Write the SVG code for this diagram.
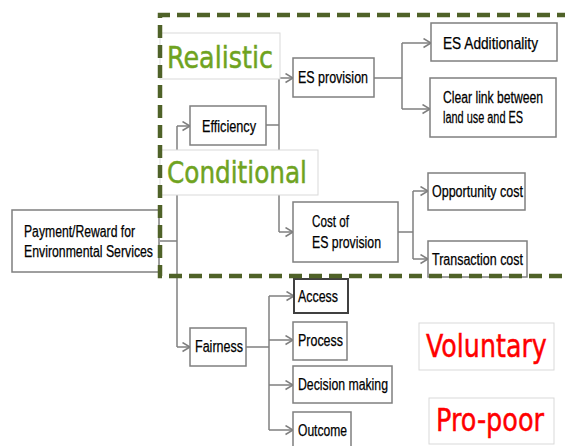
<svg xmlns="http://www.w3.org/2000/svg" width="565" height="446" viewBox="0 0 565 446">
  <style>
    .box { fill: #ffffff; stroke: #7f7f7f; stroke-width: 1.5; }
    .box.strong { stroke: #404040; stroke-width: 2; }
    .tag { fill: #ffffff; stroke: #d9d9d9; stroke-width: 1; }
    .lbl { font-family: "Liberation Sans", Arial, sans-serif; font-size: 16px; fill: #000000; stroke: #000000; stroke-width: 0.25; }
    .green { font-family: "DejaVu Sans", Tahoma, sans-serif; font-size: 30px; fill: #6fa31f; stroke: #6fa31f; stroke-width: 0.5; }
    .red { font-family: "DejaVu Sans", Tahoma, sans-serif; font-size: 32px; fill: #ff0000; stroke: #ff0000; stroke-width: 0.5; }
    .wire { fill: none; stroke: #7f7f7f; stroke-width: 1.5; }
    .frame { fill: none; stroke: #4f6228; stroke-width: 4.5; stroke-dasharray: 13 7; }
  </style>
  <defs>
    <marker id="chev" markerUnits="userSpaceOnUse" markerWidth="10" markerHeight="12" refX="8.5" refY="5" orient="auto">
      <path d="M1,0.5 L8.5,5 L1,9.5" fill="none" stroke="#7f7f7f" stroke-width="1.5"/>
    </marker>
  </defs>

  <!-- connectors -->
  <g id="connectors" class="wire">
    <path d="M160,241 H177"/>
    <path d="M177,126 V347"/>
    <path d="M177,126 H190" marker-end="url(#chev)"/>
    <path d="M177,347 H190" marker-end="url(#chev)"/>
    <path d="M266,125 H279"/>
    <path d="M279,78 V232"/>
    <path d="M279,78 H293" marker-end="url(#chev)"/>
    <path d="M279,232 H293" marker-end="url(#chev)"/>
    <path d="M374,78 H402"/>
    <path d="M402,43 V109"/>
    <path d="M402,43 H431" marker-end="url(#chev)"/>
    <path d="M402,109 H430" marker-end="url(#chev)"/>
    <path d="M398,232 H413"/>
    <path d="M413,191 V259"/>
    <path d="M413,191 H428" marker-end="url(#chev)"/>
    <path d="M413,259 H428" marker-end="url(#chev)"/>
    <path d="M246,347 H269"/>
    <path d="M269,296 V430"/>
    <path d="M269,296 H294" marker-end="url(#chev)"/>
    <path d="M269,340 H293" marker-end="url(#chev)"/>
    <path d="M269,385 H293" marker-end="url(#chev)"/>
    <path d="M269,430 H293" marker-end="url(#chev)"/>
  </g>

  <!-- category tags -->
  <g id="realistic">
    <rect class="tag" x="160" y="33" width="120" height="46"/>
    <text class="green" x="167" y="68" textLength="106" lengthAdjust="spacingAndGlyphs">Realistic</text>
  </g>
  <g id="conditional">
    <rect class="tag" x="160" y="150" width="158" height="45"/>
    <text class="green" x="167" y="183" textLength="140" lengthAdjust="spacingAndGlyphs">Conditional</text>
  </g>
  <g id="voluntary">
    <rect class="tag" x="419" y="323" width="135" height="47"/>
    <text class="red" transform="translate(426,357) scale(0.8,1)" textLength="151" lengthAdjust="spacingAndGlyphs">Voluntary</text>
  </g>
  <g id="propoor">
    <rect class="tag" x="429" y="398" width="125" height="46"/>
    <text class="red" font-size="31" transform="translate(436,431) scale(0.82,1)" textLength="131.7" lengthAdjust="spacingAndGlyphs">Pro-poor</text>
  </g>

  <!-- nodes -->
  <g id="payment">
    <rect class="box" x="12" y="210" width="147" height="62"/>
    <text class="lbl" x="24" y="237" textLength="111" lengthAdjust="spacingAndGlyphs">Payment/Reward for</text>
    <text class="lbl" x="24" y="257" textLength="129" lengthAdjust="spacingAndGlyphs">Environmental Services</text>
  </g>
  <g id="efficiency">
    <rect class="box" x="190" y="106" width="76" height="39"/>
    <text class="lbl" x="202" y="132" textLength="54" lengthAdjust="spacingAndGlyphs">Efficiency</text>
  </g>
  <g id="es-provision">
    <rect class="box" x="293" y="58" width="81" height="39"/>
    <text class="lbl" x="298" y="83" textLength="70" lengthAdjust="spacingAndGlyphs">ES provision</text>
  </g>
  <g id="es-additionality">
    <rect class="box" x="431" y="23" width="126" height="38"/>
    <text class="lbl" x="443" y="49" textLength="95" lengthAdjust="spacingAndGlyphs">ES Additionality</text>
  </g>
  <g id="clear-link">
    <rect class="box" x="430" y="78" width="126" height="59"/>
    <text class="lbl" transform="translate(443,103) scale(0.76,1)" textLength="131.6" lengthAdjust="spacingAndGlyphs">Clear link between</text>
    <text class="lbl" transform="translate(443,123) scale(0.76,1)" textLength="105.3" lengthAdjust="spacingAndGlyphs">land use and ES</text>
  </g>
  <g id="cost-es-provision">
    <rect class="box" x="293" y="202" width="105" height="60"/>
    <text class="lbl" x="312" y="227" textLength="37" lengthAdjust="spacingAndGlyphs">Cost of</text>
    <text class="lbl" x="312" y="248" textLength="69" lengthAdjust="spacingAndGlyphs">ES provision</text>
  </g>
  <g id="opportunity-cost">
    <rect class="box" x="428" y="173" width="97" height="37"/>
    <text class="lbl" x="432" y="197" textLength="91" lengthAdjust="spacingAndGlyphs">Opportunity cost</text>
  </g>
  <g id="transaction-cost">
    <rect class="box" x="428" y="241" width="99" height="36"/>
    <text class="lbl" x="432" y="265" textLength="91" lengthAdjust="spacingAndGlyphs">Transaction cost</text>
  </g>
  <g id="fairness">
    <rect class="box" x="190" y="328" width="56" height="38"/>
    <text class="lbl" x="195" y="352" textLength="48" lengthAdjust="spacingAndGlyphs">Fairness</text>
  </g>
  <g id="access">
    <rect class="box strong" x="294" y="279" width="54" height="34"/>
    <text class="lbl" x="298" y="302" textLength="40" lengthAdjust="spacingAndGlyphs">Access</text>
  </g>
  <g id="process">
    <rect class="box" x="293" y="322" width="54" height="38"/>
    <text class="lbl" x="298" y="346" textLength="45" lengthAdjust="spacingAndGlyphs">Process</text>
  </g>
  <g id="decision-making">
    <rect class="box" x="293" y="366" width="99" height="37"/>
    <text class="lbl" x="298" y="390" textLength="90" lengthAdjust="spacingAndGlyphs">Decision making</text>
  </g>
  <g id="outcome">
    <rect class="box" x="293" y="412" width="58" height="40"/>
    <text class="lbl" x="298" y="436" textLength="49" lengthAdjust="spacingAndGlyphs">Outcome</text>
  </g>

  <!-- dashed frame around the efficiency criteria -->
  <g id="frame">
    <path class="frame" d="M570,15 H160 V276 H570"/>
  </g>
</svg>
